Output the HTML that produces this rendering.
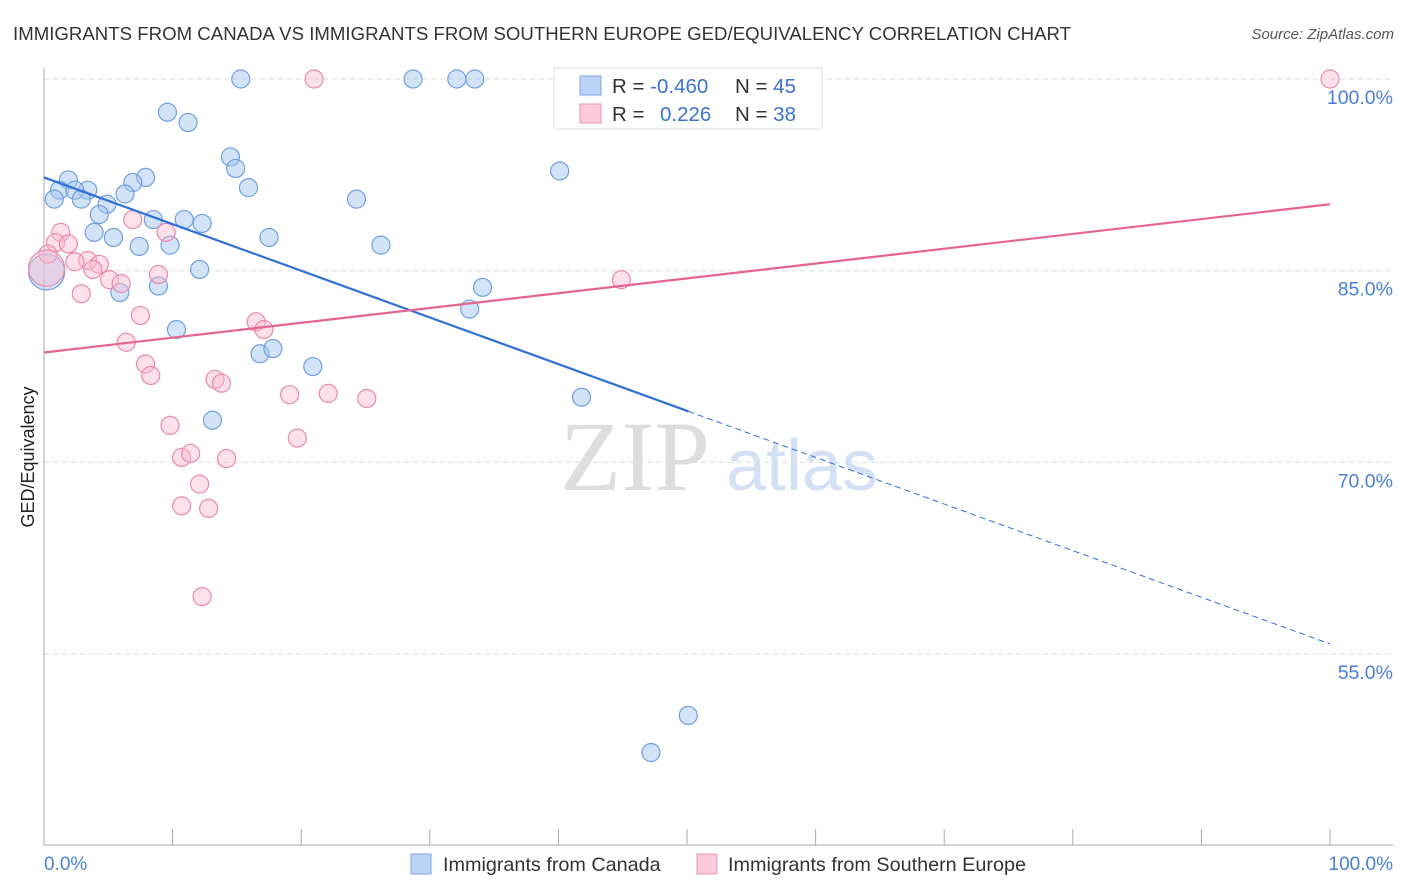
<!DOCTYPE html>
<html><head><meta charset="utf-8"><style>
body{margin:0;background:#fff;font-family:"Liberation Sans",sans-serif;}
#wrap{position:relative;width:1406px;height:892px;overflow:hidden;}
</style></head><body>
<div id="wrap">
<svg id="svg" width="1406" height="892" xmlns="http://www.w3.org/2000/svg">
<text x="13" y="40" font-size="18.6" fill="#333" textLength="1058">IMMIGRANTS FROM CANADA VS IMMIGRANTS FROM SOUTHERN EUROPE GED/EQUIVALENCY CORRELATION CHART</text>
<text x="1394" y="39" font-size="15" fill="#555" font-style="italic" text-anchor="end">Source: ZipAtlas.com</text>
<text x="635" y="490" font-size="100" fill="#ddd" font-family="Liberation Serif,serif" text-anchor="middle">ZIP</text>
<text x="802" y="490" font-size="72" fill="#d4e1f5" text-anchor="middle">atlas</text>
<text transform="translate(34,457) rotate(-90)" font-size="18" fill="#222" text-anchor="middle">GED/Equivalency</text>
<g id="grid"></g><g id="axes"></g><g id="pts"></g><g id="trend"></g>
<g>
<rect x="554" y="68" width="268" height="61" fill="#fff" stroke="#ddd"/>
<rect x="580" y="76" width="21" height="19" fill="#bcd3f5" stroke="#7aa6e3"/>
<rect x="580" y="104" width="21" height="19" fill="#fbcadb" stroke="#ea95b3"/>
<text x="612" y="93" font-size="20.5" fill="#333">R = <tspan fill="#3b73d1">-0.460</tspan><tspan x="735">N = </tspan><tspan fill="#3b73d1">45</tspan></text>
<text x="612" y="121" font-size="20.5" fill="#333">R = <tspan x="660" fill="#3b73d1">0.226</tspan><tspan x="735">N = </tspan><tspan fill="#3b73d1">38</tspan></text>
</g>
<g>
<rect x="411" y="854" width="20" height="20" fill="#bcd3f5" stroke="#7aa6e3"/>
<text x="443" y="871" font-size="19.8" fill="#333">Immigrants from Canada</text>
<rect x="697" y="854" width="20" height="20" fill="#fbcadb" stroke="#ea95b3"/>
<text x="728" y="871" font-size="19.8" fill="#333">Immigrants from Southern Europe</text>
</g>
</svg>
</div>
<script>
const blueX=[15.3,28.7,32.1,33.5,9.6,11.2,14.5,14.9,15.9,40.1,1.9,7.9,6.9,1.2,3.4,2.4,0.8,2.9,6.3,4.9,4.3,8.5,10.9,12.3,24.3,3.9,5.4,7.4,9.8,17.5,26.2,12.1,8.9,5.9,34.1,33.1,10.3,16.8,17.8,20.9,41.8,13.1,50.1,47.2,0.2];
const blueY=[100,100,100,100,97.4,96.6,93.9,93.0,91.5,92.8,92.1,92.3,91.9,91.3,91.3,91.3,90.6,90.6,91.0,90.2,89.4,89.0,89.0,88.7,90.6,88.0,87.6,86.9,87.0,87.6,87.0,85.1,83.8,83.3,83.7,82.0,80.4,78.5,78.9,77.5,75.1,73.3,50.2,47.3,84.9];
const pinkX=[21.0,100,1.3,0.9,1.9,0.3,6.9,9.5,3.4,4.3,2.4,3.8,5.1,6.0,8.9,2.9,7.5,16.5,17.1,6.4,7.9,8.3,13.3,13.8,19.1,22.1,25.1,9.8,19.7,10.7,11.4,14.2,12.1,10.7,12.8,12.3,44.9,0.2];
const pinkY=[100,100,88.0,87.2,87.1,86.3,89.0,88.0,85.8,85.5,85.7,85.1,84.3,84.0,84.7,83.2,81.5,81.0,80.4,79.4,77.7,76.8,76.5,76.2,75.3,75.4,75.0,72.9,71.9,70.4,70.7,70.3,68.3,66.6,66.4,59.5,84.3,85.2];
const blueTrendX=[0,50.1,100];
const blueTrendY=[92.3,74.0,55.8];
const pinkTrendX=[0,100];
const pinkTrendY=[78.6,90.2];
const yTicks=[100,85,70,55];
const yTickLabels=["100.0%","85.0%","70.0%","55.0%"];
const NS="http://www.w3.org/2000/svg";
const sx=v=>44+v*12.86;
const sy=v=>79+(100-v)*12.78;
function mk(tag,attrs,parent){const e=document.createElementNS(NS,tag);for(const k in attrs)e.setAttribute(k,attrs[k]);document.getElementById(parent).appendChild(e);return e;}
yTicks.forEach((t,i)=>{
  const g=mk('line',{x1:44,x2:1393,y1:sy(t),y2:sy(t),stroke:'#ddd','stroke-dasharray':'5,4'},'grid');
  
  
  const l=mk('text',{x:1393,y:sy(t)+25,'font-size':19.5,fill:'#4a7fd4','text-anchor':'end'},'grid');
  l.textContent=yTickLabels[i];
  
  
});
let a=mk('line',{x1:44,x2:44,y1:68,y2:845,stroke:'#aaa'},'axes');


a=mk('line',{x1:44,x2:1393,y1:845,y2:845,stroke:'#aaa'},'axes');


for(let i=0;i<=10;i++){const t=mk('line',{x1:sx(i*10),x2:sx(i*10),y1:829,y2:845,stroke:'#aaa'},'axes');
  
  }
let xl=mk('text',{x:44,y:870,'font-size':19,fill:'#4a7fd4'},'axes');xl.textContent='0.0%';


xl=mk('text',{x:1393,y:870,'font-size':19,fill:'#4a7fd4','text-anchor':'end'},'axes');xl.textContent='100.0%';


function pts(X,Y,fill,stroke,name){X.forEach((x,i)=>{const big=(i===X.length-1&&x<1);
  const c=mk('circle',{cx:sx(x),cy:sy(Y[i]),r:big?18:9,fill:fill,stroke:stroke,'stroke-width':1.2},'pts');
  
  });}
pts(blueX,blueY,'rgba(168,199,240,0.5)','#6f9fe0','canada-point');
pts(pinkX,pinkY,'rgba(248,187,208,0.45)','#e98aa8','southern-europe-point');
let t=mk('line',{x1:sx(blueTrendX[0]),y1:sy(blueTrendY[0]),x2:sx(blueTrendX[1]),y2:sy(blueTrendY[1]),stroke:'#2f6fd6','stroke-width':2.2},'trend');


t=mk('line',{x1:sx(blueTrendX[1]),y1:sy(blueTrendY[1]),x2:sx(blueTrendX[2]),y2:sy(blueTrendY[2]),stroke:'#2f6fd6','stroke-width':1,'stroke-dasharray':'6,4'},'trend');


t=mk('line',{x1:sx(pinkTrendX[0]),y1:sy(pinkTrendY[0]),x2:sx(pinkTrendX[1]),y2:sy(pinkTrendY[1]),stroke:'#e5648f','stroke-width':2.2},'trend');


</script>
</body></html>
